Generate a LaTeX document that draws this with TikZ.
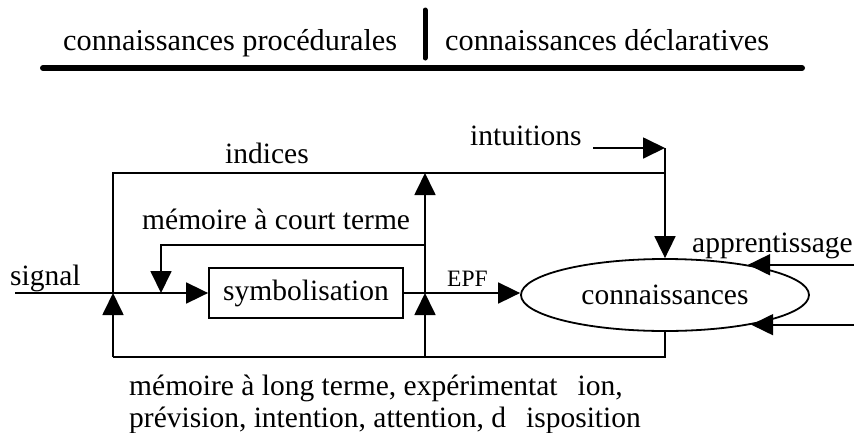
\documentclass[tikz,border=0pt]{standalone}
\usepackage{fontspec}
\setmainfont{Liberation Serif}
\usetikzlibrary{arrows.meta,shapes.geometric}

\tikzset{
  wire/.style={line width=1.8pt},
  arr/.style={wire, -{Triangle[length=22pt,width=21pt]}},
  lbl/.style={inner sep=0pt, anchor=base west, font=\fontsize{29.5}{32}\selectfont},
  head/.style={inner sep=0pt, anchor=base west, font=\fontsize{30.3}{32}\selectfont},
  small/.style={inner sep=0pt, anchor=base west, font=\fontsize{23.5}{26}\selectfont},
  procbox/.style={draw, wire, rectangle, minimum width=194pt, minimum height=50pt,
    inner sep=0pt, font=\fontsize{29.5}{32}\selectfont},
  store/.style={draw, wire, ellipse, minimum width=288pt, minimum height=72pt,
    inner sep=0pt, font=\fontsize{29.5}{32}\selectfont},
  rule/.style={line width=6pt, line cap=round}
}

\begin{document}
\begin{tikzpicture}[x=1pt, y=-1pt]
  \useasboundingbox (0,0) rectangle (854,432);

  % heading: two kinds of knowledge
  \node[head] (proc) at (63,50) {connaissances procédurales};
  \node[head] (decl) at (445,50) {connaissances déclaratives};
  \coordinate (sepTop) at (425,10);
  \coordinate (sepBot) at (425,58);
  \coordinate (ruleL) at (43,68);
  \coordinate (ruleR) at (802,68);
  \draw[rule, line width=5pt] (sepTop) -- (sepBot);
  \draw[rule] (ruleL) -- (ruleR);

  % main blocks
  \node[procbox] (sym) at (306,293) {symbolisation};
  \node[store] (conn) at (665,295) {connaissances};

  % junction points
  \coordinate (sigIn) at (15,293);
  \coordinate (jL) at (113,293);
  \coordinate (jS) at (161,293);
  \coordinate (jR) at (425,293);
  \coordinate (tL) at (113,173);
  \coordinate (tR) at (425,173);
  \coordinate (tI) at (665,173);
  \coordinate (sm1) at (425,245);
  \coordinate (sm2) at (161,245);
  \coordinate (bL) at (113,357);
  \coordinate (bR) at (425,357);
  \coordinate (bC) at (665,357);
  \coordinate (iS) at (593,148);
  \coordinate (iC) at (665,148);
  \coordinate (rEdge) at (854,295);

  % signal path
  \draw[arr] (sigIn) -- (sym.west);
  \draw[wire] (sym.east) -- (jR);
  \draw[arr] (jR) -- (conn.west |- jR);

  % cues loop
  \draw[wire] (jL) -- (tL) -- (tI);
  \draw[arr] (jR) -- (tR);
  \draw[arr] (iS) -- (iC);
  \draw[arr] (iC) -- (conn.north);

  % short-term memory loop
  \draw[arr] (sm1) -- (sm2) -- (jS);

  % long-term memory loop
  \draw[wire] (conn.south) -- (bC) -- (bL);
  \draw[arr] (bL) -- (jL);
  \draw[arr] (bR) -- (jR);

  % learning inputs
  \draw[arr] (conn.20 -| rEdge) -- (conn.20);
  \draw[arr] (conn.-19 -| rEdge) -- (conn.-19);

  % labels
  \node[lbl] (tSignal) at (10,285) {signal};
  \node[lbl] (tIndices) at (225,163) {indices};
  \node[lbl] (tShort) at (142,229) {mémoire à court terme};
  \node[lbl] (tIntu) at (470,145) {intuitions};
  \node[small] (tEPF) at (447,286) {EPF};
  \node[lbl] (tAppr) at (692,252) {apprentissage};
  \node[lbl] (tLong1) at (129,395) {mémoire à long terme, expérimentat\hspace{20pt}ion,};
  \node[lbl] (tLong2) at (129,427) {prévision, intention, attention, d\hspace{20pt}isposition};
\end{tikzpicture}
\end{document}
